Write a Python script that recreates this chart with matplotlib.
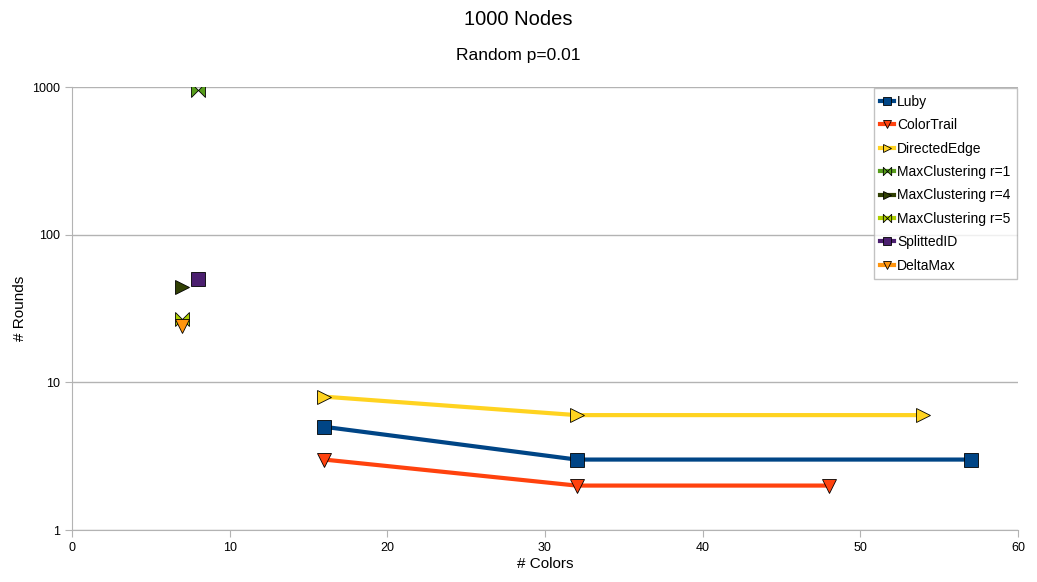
import matplotlib
matplotlib.use("Agg")
import matplotlib.pyplot as plt
from matplotlib.path import Path

plt.rcParams["font.family"] = ["Liberation Sans", "DejaVu Sans"]

# data
luby_x = [16, 32, 57]
luby_y = [5, 3, 3]
colortrail_x = [16, 32, 48]
colortrail_y = [3, 2, 2]
directed_x = [16, 32, 54]
directed_y = [8, 6, 6]
mc1_x = [8]
mc1_y = [950]
mc4_x = [7]
mc4_y = [44]
mc5_x = [7]
mc5_y = [27]
splitted_x = [8]
splitted_y = [50]
deltamax_x = [7]
deltamax_y = [24]

# horizontal bowtie marker
bowtie = Path(
    [(-1, -1), (0, 0), (-1, 1), (-1, -1), (1, -1), (0, 0), (1, 1), (1, -1)],
    [Path.MOVETO, Path.LINETO, Path.LINETO, Path.CLOSEPOLY,
     Path.MOVETO, Path.LINETO, Path.LINETO, Path.CLOSEPOLY],
)

series = [
    ("Luby", luby_x, luby_y, "#004586", "s"),
    ("ColorTrail", colortrail_x, colortrail_y, "#ff420e", "v"),
    ("DirectedEdge", directed_x, directed_y, "#ffd320", ">"),
    ("MaxClustering r=1", mc1_x, mc1_y, "#579d1c", bowtie),
    ("MaxClustering r=4", mc4_x, mc4_y, "#314004", ">"),
    ("MaxClustering r=5", mc5_x, mc5_y, "#aecf00", bowtie),
    ("SplittedID", splitted_x, splitted_y, "#4b1f6f", "s"),
    ("DeltaMax", deltamax_x, deltamax_y, "#ff950e", "v"),
]

fig = plt.figure(figsize=(10.37, 5.82), dpi=100)
ax = fig.add_axes([0.0694, 0.0893, 0.9123, 0.7612])

for name, xs, ys, color, marker in series:
    ax.plot(xs, ys, color=color, linewidth=3, marker=marker, markersize=10,
            markerfacecolor=color, markeredgecolor="black",
            markeredgewidth=0.6, label=name, zorder=3)

ax.set_yscale("log")
ax.set_ylim(1, 1000)
ax.set_xlim(0, 60)
ax.set_yticks([1, 10, 100, 1000])
ax.set_yticklabels(["1", "10", "100", "1000"])
ax.minorticks_off()
ax.set_xticks(range(0, 61, 10))

ax.grid(axis="y", color="#b3b3b3", linewidth=1)
ax.set_axisbelow(True)
for side in ("top", "right"):
    ax.spines[side].set_visible(False)
for side in ("left", "bottom"):
    ax.spines[side].set_color("#b3b3b3")
ax.tick_params(colors="#b3b3b3", labelcolor="black", labelsize=9, length=5)

ax.set_xlabel("# Colors", fontsize=11, labelpad=2)
ax.set_ylabel("# Rounds", fontsize=11)

fig.text(0.5, 0.966, "1000 Nodes", ha="center", va="center", fontsize=14.5)
fig.text(0.5, 0.905, "Random p=0.01", ha="center", va="center", fontsize=12.5)

leg = ax.legend(loc="upper right", bbox_to_anchor=(1.0, 1.0), fontsize=10,
                frameon=True, fancybox=False, handlelength=1.0,
                handletextpad=0.2, borderpad=0.45, labelspacing=0.68,
                borderaxespad=0.1, markerscale=0.6)
leg.get_frame().set_edgecolor("#b3b3b3")
leg.get_frame().set_linewidth(1)

fig.savefig("out.png", dpi=100)
